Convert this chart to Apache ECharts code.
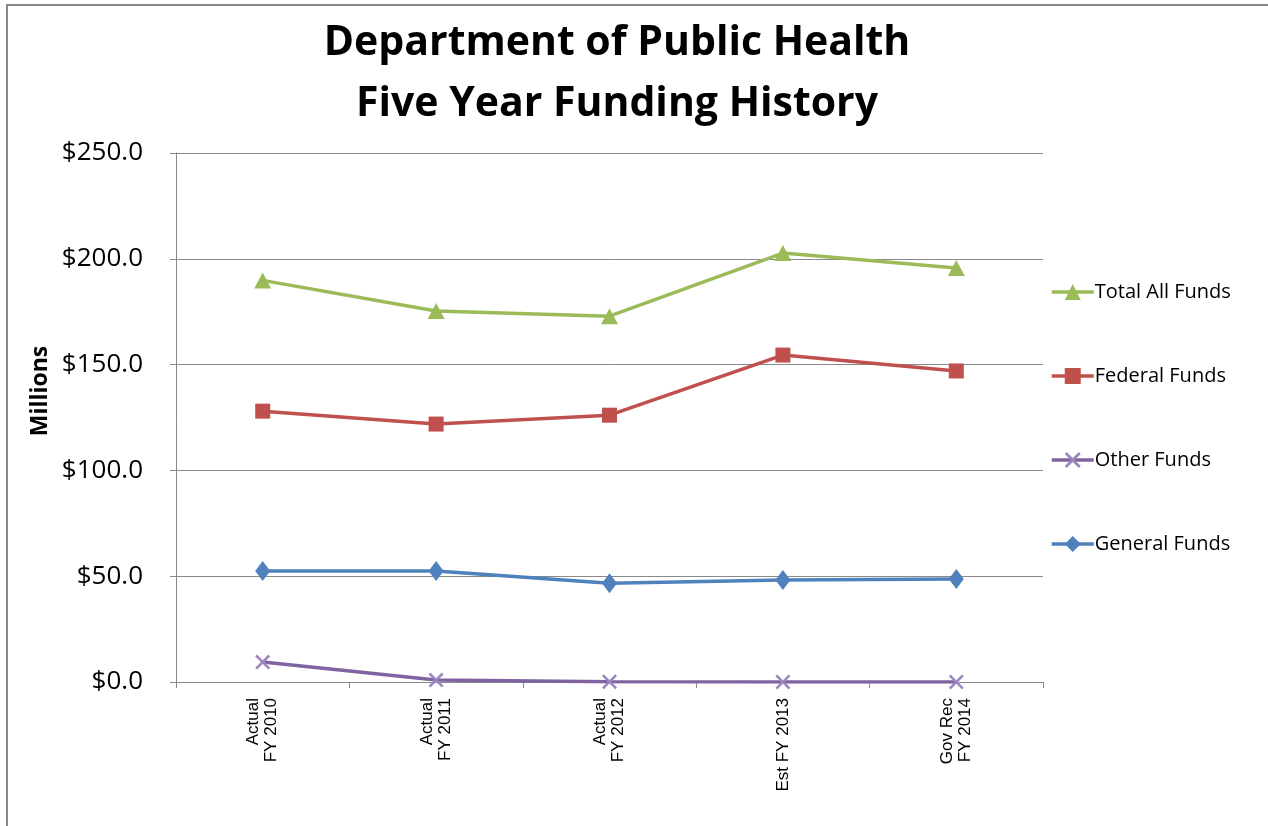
<!DOCTYPE html>
<html>
<head>
<meta charset="utf-8">
<script src="https://cdn.jsdelivr.net/npm/echarts@6/dist/echarts.min.js"></script>
<style>
html,body{margin:0;padding:0;background:#fff;}
#chart{width:1268px;height:826px;}
</style>
</head>
<body>
<div id="chart"></div>
<script>
var categories = ['Actual\nFY 2010', 'Actual\nFY 2011', 'Actual\nFY 2012', 'Est FY 2013', 'Gov Rec\nFY 2014'];
var totalAllFunds = [189.8, 175.3, 172.9, 202.7, 195.7];
var federalFunds = [128.0, 121.9, 126.1, 154.5, 147.0];
var otherFunds = [9.4, 0.9, 0.1, 0.0, 0.0];
var generalFunds = [52.4, 52.5, 46.7, 48.2, 48.7];
var yTicks = {min: 0, max: 250, interval: 50};

var xPath = 'path://M0,1.2L1.2,0L5,3.8L8.8,0L10,1.2L6.2,5L10,8.8L8.8,10L5,6.2L1.2,10L0,8.8L3.8,5Z';

var chart = echarts.init(document.getElementById('chart'));
chart.setOption({
  animation: false,
  backgroundColor: '#fff',
  title: {
    text: 'Department of Public Health\nFive Year Funding History',
    left: 612,
    textAlign: 'center',
    top: 8,
    textStyle: {fontFamily: 'Open Sans', fontWeight: 'bold', fontSize: 41, lineHeight: 61, color: '#000'}
  },
  graphic: [{
    type: 'rect', silent: true,
    shape: {x: 7, y: 5, width: 1400, height: 1000},
    style: {fill: 'none', stroke: '#888', lineWidth: 2}
  }, {
    type: 'text', silent: true,
    x: 40, y: 391, rotation: Math.PI / 2,
    style: {text: 'Millions', fontFamily: 'Open Sans', fontWeight: 'bold', fontSize: 23, fill: '#000',
            align: 'center', verticalAlign: 'middle'}
  }],
  legend: {
    orient: 'vertical',
    left: 1045,
    top: 277,
    itemWidth: 42,
    itemHeight: 20,
    itemGap: 64,
    lineStyle: {width: 3.5},
    data: ['Total All Funds', 'Federal Funds', 'Other Funds', 'General Funds'],
    textStyle: {fontFamily: 'Open Sans', fontSize: 20, color: '#000', padding: [0,0,0,-4]}
  },
  grid: {left: 176, right: 225, top: 153, bottom: 144, containLabel: false},
  xAxis: {
    type: 'category',
    data: categories,
    boundaryGap: true,
    axisLine: {lineStyle: {color: '#888', width: 1}},
    axisTick: {show: true, length: 6, lineStyle: {color: '#888'}},
    axisLabel: {
      rotate: 90, margin: 16, fontFamily: 'Liberation Sans', fontSize: 17, color: '#000',
      lineHeight: 18, align: 'right'
    }
  },
  yAxis: {
    type: 'value',
    min: yTicks.min, max: yTicks.max, interval: yTicks.interval,
    axisLine: {show: true, lineStyle: {color: '#888'}},
    axisTick: {show: true, length: 6, lineStyle: {color: '#888'}},
    splitLine: {lineStyle: {color: '#8a8a8a', width: 1}},
    axisLabel: {
      margin: 33, fontFamily: 'Open Sans', fontSize: 26, color: '#000',
      formatter: function (v) { return '$' + v.toFixed(1); }
    }
  },
  series: [
    {name: 'Total All Funds', type: 'line', data: totalAllFunds, symbol: 'triangle', symbolSize: [17, 16],
     lineStyle: {color: '#9BBB59', width: 3.5}, itemStyle: {color: '#9BBB59'}, z: 4},
    {name: 'Federal Funds', type: 'line', data: federalFunds, symbol: 'rect', symbolSize: 15,
     lineStyle: {color: '#C0504D', width: 3.5}, itemStyle: {color: '#C0504D'}, z: 4},
    {name: 'Other Funds', type: 'line', data: otherFunds, symbol: xPath, symbolSize: 15,
     lineStyle: {color: '#8064A2', width: 3.5}, itemStyle: {color: '#9B86C0'}, z: 4},
    {name: 'General Funds', type: 'line', data: generalFunds, symbol: 'diamond', symbolSize: [15, 20],
     lineStyle: {color: '#4F81BD', width: 3.5}, itemStyle: {color: '#4F81BD'}, z: 4}
  ]
});
</script>
</body>
</html>
